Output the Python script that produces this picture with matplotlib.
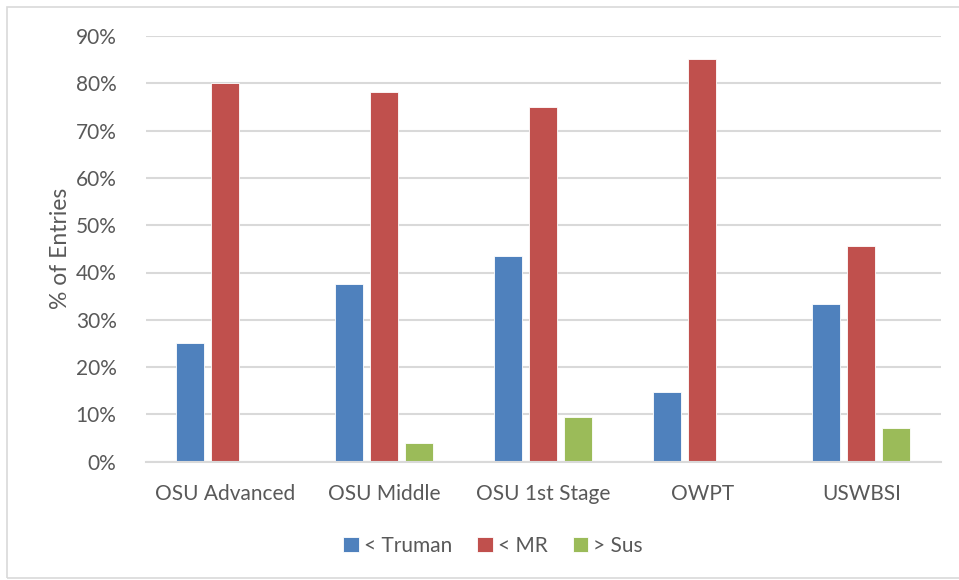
import matplotlib
matplotlib.use("Agg")
import matplotlib.pyplot as plt
import numpy as np
from matplotlib.patches import Rectangle
from matplotlib.ticker import PercentFormatter

categories = ["OSU Advanced", "OSU Middle", "OSU 1st Stage", "OWPT", "USWBSI"]
series_names = ["< Truman", "< MR", "> Sus"]
truman = [25.2, 37.6, 43.4, 14.7, 33.3]
mr = [80.0, 78.1, 75.0, 85.1, 45.5]
sus = [0.0, 3.9, 9.4, 0.0, 7.1]
colors = ["#4f81bd", "#c0504d", "#9bbb59"]
yticks = list(range(0, 91, 10))

plt.rcParams['font.family'] = ['Lato', 'DejaVu Sans']
txt = "#595959"

fig = plt.figure(figsize=(9.59, 5.8), dpi=100)
ax = fig.add_axes([145.7/959, 1-461.7/580, (940.7-145.7)/959, (461.7-36)/580])

x = np.arange(len(categories))
w = 0.176
off = 0.22
for i, (vals, c, n) in enumerate(zip([truman, mr, sus], colors, series_names)):
    ax.bar(x + (i-1)*off, vals, width=w, color=c, label=n, zorder=3,
           edgecolor='white', linewidth=0.6)

ax.set_xlim(-0.5, len(categories)-0.5)
ax.set_ylim(0, 90)
ax.set_yticks(yticks)
ax.yaxis.set_major_formatter(PercentFormatter(decimals=0))
ax.grid(axis='y', color='#d9d9d9', linewidth=1.5, zorder=0)
for s in ['top', 'right', 'left']:
    ax.spines[s].set_visible(False)
ax.spines['bottom'].set_color('#d9d9d9')
ax.spines['bottom'].set_linewidth(1.5)
ax.spines['bottom'].set_zorder(4)
ax.set_xticks(x)
ax.set_xticklabels(categories)
ax.tick_params(axis='both', length=0, labelsize=15, colors=txt)
ax.tick_params(axis='x', pad=16)
ax.tick_params(axis='y', pad=21)
ax.set_ylabel("% of Entries", fontsize=16.5, color=txt, labelpad=3)

leg = fig.legend(loc='center', bbox_to_anchor=(493/959, 1-546/580), ncol=3,
                 frameon=False, fontsize=15, handlelength=0.75, handleheight=0.75,
                 handletextpad=0.25, columnspacing=1.2)
for t in leg.get_texts():
    t.set_color(txt)

fig.patches.append(Rectangle((7/959, 2/580), 960/959, 571/580, transform=fig.transFigure,
                             fill=False, edgecolor='#d9d9d9', linewidth=1.2))

fig.savefig("out.png", dpi=100)
